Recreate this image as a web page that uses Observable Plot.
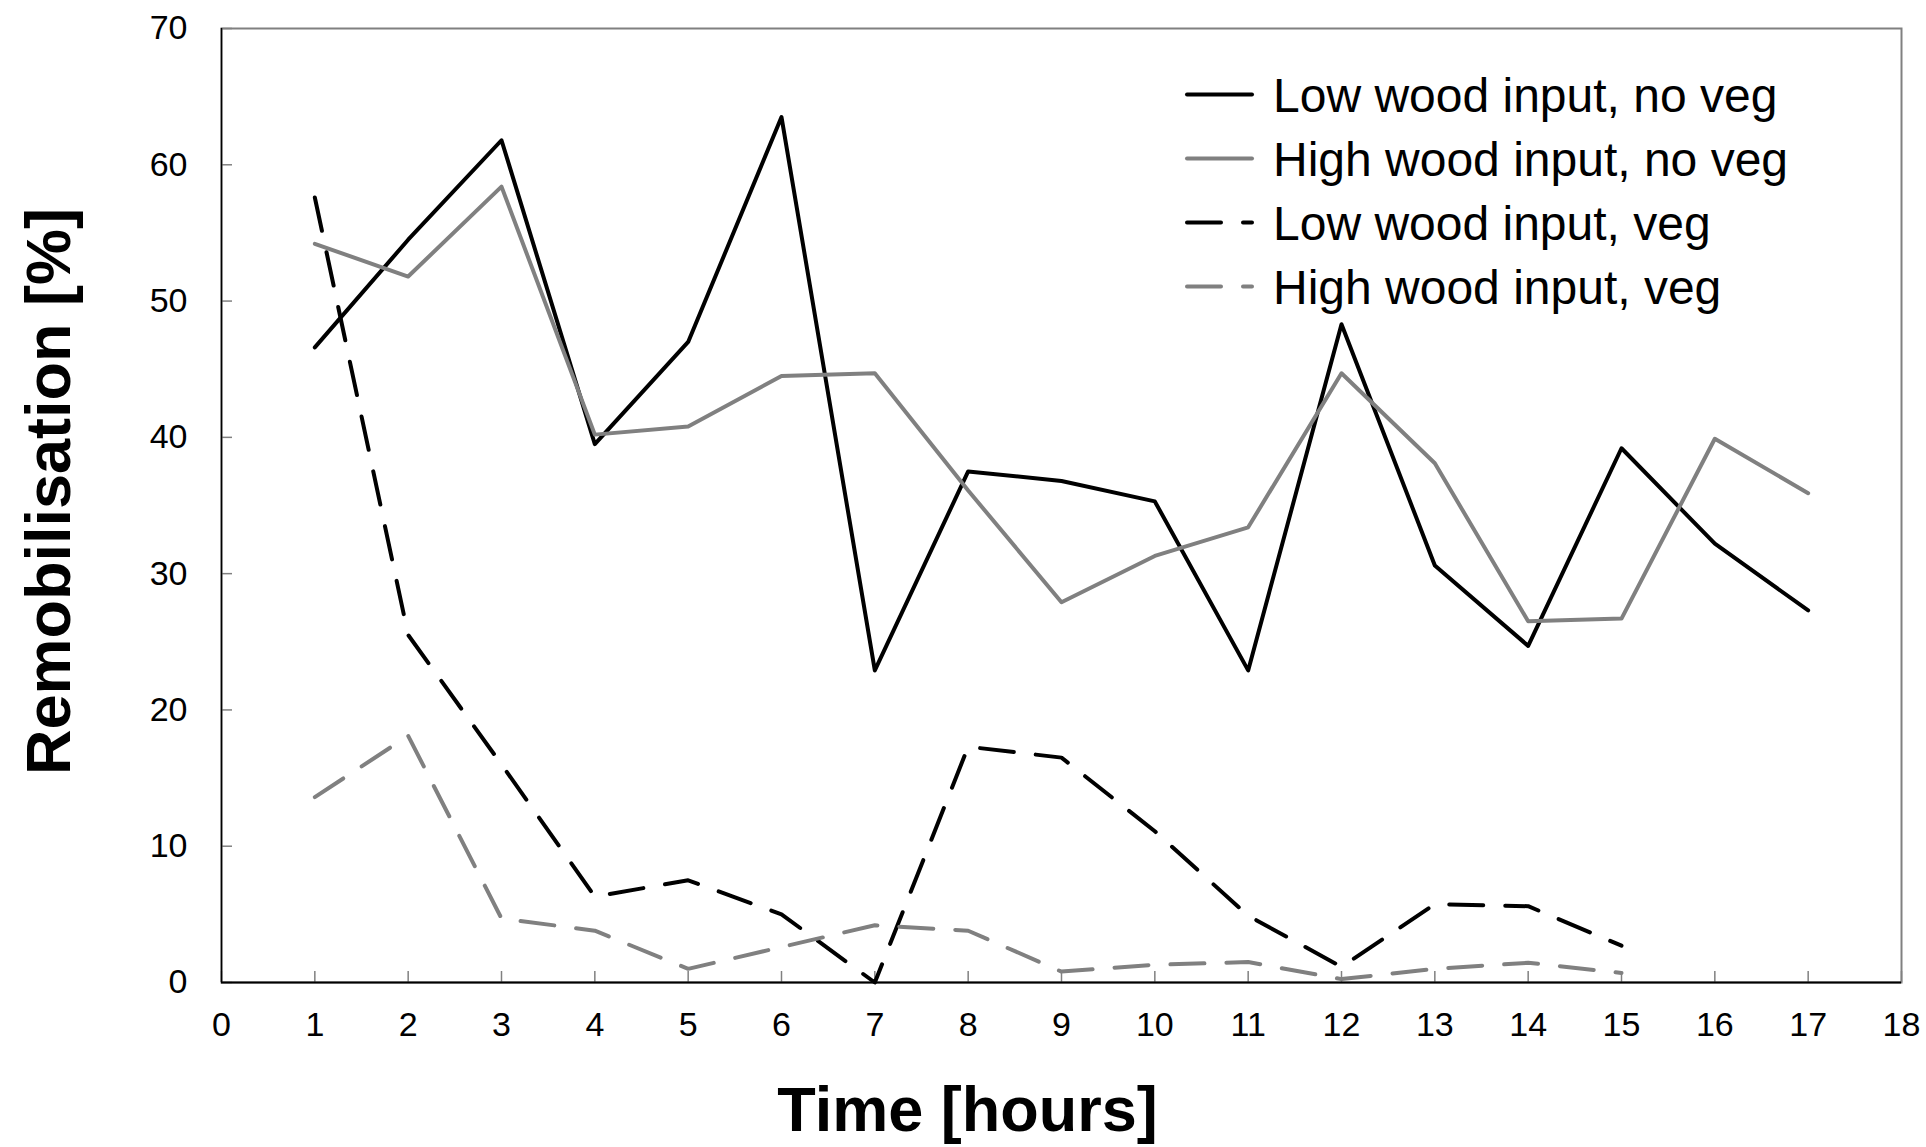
<!DOCTYPE html>
<html><head><meta charset="utf-8">
<script src="https://cdn.jsdelivr.net/npm/d3@7"></script>
<script src="https://cdn.jsdelivr.net/npm/@observablehq/plot@0.6"></script>
<style>
html,body{margin:0;padding:0;background:#fff;}
#wrap{position:relative;width:1926px;height:1147px;font-family:"Liberation Sans",Arial,sans-serif;}
#legend{position:absolute;left:0;top:0;pointer-events:none;}
</style></head><body><div id="wrap"></div>
<script>
// ---- data ----
const hours = [1,2,3,4,5,6,7,8,9,10,11,12,13,14,15,16,17];
const lowNoVeg  = [46.6,54.5,61.8,39.5,47.0,63.5,22.9,37.5,36.8,35.3,22.9,48.3,30.6,24.7,39.2,32.2,27.3];
const highNoVeg = [54.2,51.8,58.4,40.2,40.8,44.5,44.7,36.1,27.9,31.3,33.4,44.7,38.1,26.5,26.7,39.9,35.9];
const lowVeg    = [57.6,25.5,16.0,6.3,7.5,5.0,0.0,17.3,16.5,11.1,4.9,1.15,5.75,5.6,2.7];
const highVeg   = [13.6,18.1,4.7,3.8,1.0,2.6,4.2,3.8,0.8,1.3,1.5,0.25,1.0,1.45,0.7];
const seriesNames = ["Low wood input, no veg","High wood input, no veg","Low wood input, veg","High wood input, veg"];
const xTicks = [0,1,2,3,4,5,6,7,8,9,10,11,12,13,14,15,16,17,18];
const yTicks = [0,10,20,30,40,50,60,70];
const xTitle = "Time [hours]";
const yTitle = "Remobilisation [%]";

// ---- styles ----
const styles = [
  {color:"#000000", dash:null},
  {color:"#808080", dash:null},
  {color:"#000000", dash:"34,22"},
  {color:"#808080", dash:"34,22"}
];
const valueSets = [lowNoVeg, highNoVeg, lowVeg, highVeg];
const rows = valueSets.flatMap((vals, s) => vals.map((v, i) => ({series: seriesNames[s], hour: hours[i], value: v})));

const W = 1926, H = 1147, mL = 221, mR = 25, mT = 28, mB = 165, tickLen = 11;
const font = "Liberation Sans, Arial, sans-serif";
const plot = Plot.plot({
  width: W, height: H,
  marginLeft: mL, marginRight: mR, marginTop: mT, marginBottom: mB,
  style: {fontFamily: font, fontSize: "34px", background: "#fff", color: "#000", overflow: "visible"},
  x: {domain: [0, 18], label: null},
  y: {domain: [0, 70], label: null},
  marks: [
    Plot.frame({stroke: "#808080", strokeWidth: 2}),
    // inward tick marks
    Plot.gridX(xTicks, {stroke: "#808080", strokeOpacity: 1, strokeWidth: 1.5, insetTop: (H - mT - mB) - tickLen}),
    Plot.gridY(yTicks, {stroke: "#808080", strokeOpacity: 1, strokeWidth: 1.5, insetRight: (W - mL - mR) - tickLen}),
    Plot.axisX({ticks: xTicks, tickSize: 0, tickPadding: 29, tickFormat: d => d, fontSize: 34, label: null}),
    Plot.axisY({ticks: yTicks, tickSize: 0, tickPadding: 34, tickFormat: d => d, fontSize: 34, label: null}),
    Plot.ruleY([0], {stroke: "#000", strokeWidth: 2}),
    Plot.ruleX([0], {stroke: "#000", strokeWidth: 1.5}),
    ...seriesNames.map((name, s) => Plot.line(rows.filter(r => r.series === name), {
      x: "hour", y: "value", stroke: styles[s].color, strokeWidth: 4,
      strokeDasharray: styles[s].dash, strokeLinecap: "round", strokeLinejoin: "round"
    })),
    Plot.text([yTitle], {text: d => d, frameAnchor: "left", textAnchor: "middle", lineAnchor: "middle", rotate: -90, dx: -172, dy: -14, fontSize: 63, fontWeight: "bold", fill: "#000"}),
    Plot.text([xTitle], {text: d => d, frameAnchor: "bottom", textAnchor: "middle", lineAnchor: "middle", dx: -94, dy: 128, fontSize: 63, fontWeight: "bold", fill: "#000"})
  ]
});
const wrap = document.getElementById("wrap");
wrap.appendChild(plot);

// ---- legend (overlay inside plot area) ----
const ns = "http://www.w3.org/2000/svg";
const leg = document.createElementNS(ns, "svg");
leg.setAttribute("id", "legend");
leg.setAttribute("width", W);
leg.setAttribute("height", H);
const legX0 = 1187, legX1 = 1252, legTextX = 1273, legY0 = 94.5, legStep = 64;
seriesNames.forEach((name, s) => {
  const y = legY0 + s * legStep;
  const ln = document.createElementNS(ns, "line");
  ln.setAttribute("x1", legX0); ln.setAttribute("x2", legX1);
  ln.setAttribute("y1", y); ln.setAttribute("y2", y);
  ln.setAttribute("stroke", styles[s].color);
  ln.setAttribute("stroke-width", 4);
  ln.setAttribute("stroke-linecap", "round");
  if (styles[s].dash) ln.setAttribute("stroke-dasharray", styles[s].dash);
  leg.appendChild(ln);
  const tx = document.createElementNS(ns, "text");
  tx.setAttribute("x", legTextX); tx.setAttribute("y", y);
  tx.setAttribute("dy", "0.36em");
  tx.setAttribute("font-family", font);
  tx.setAttribute("font-size", 48);
  tx.setAttribute("fill", "#000");
  tx.textContent = name;
  leg.appendChild(tx);
});
wrap.appendChild(leg);
</script>
</body></html>
